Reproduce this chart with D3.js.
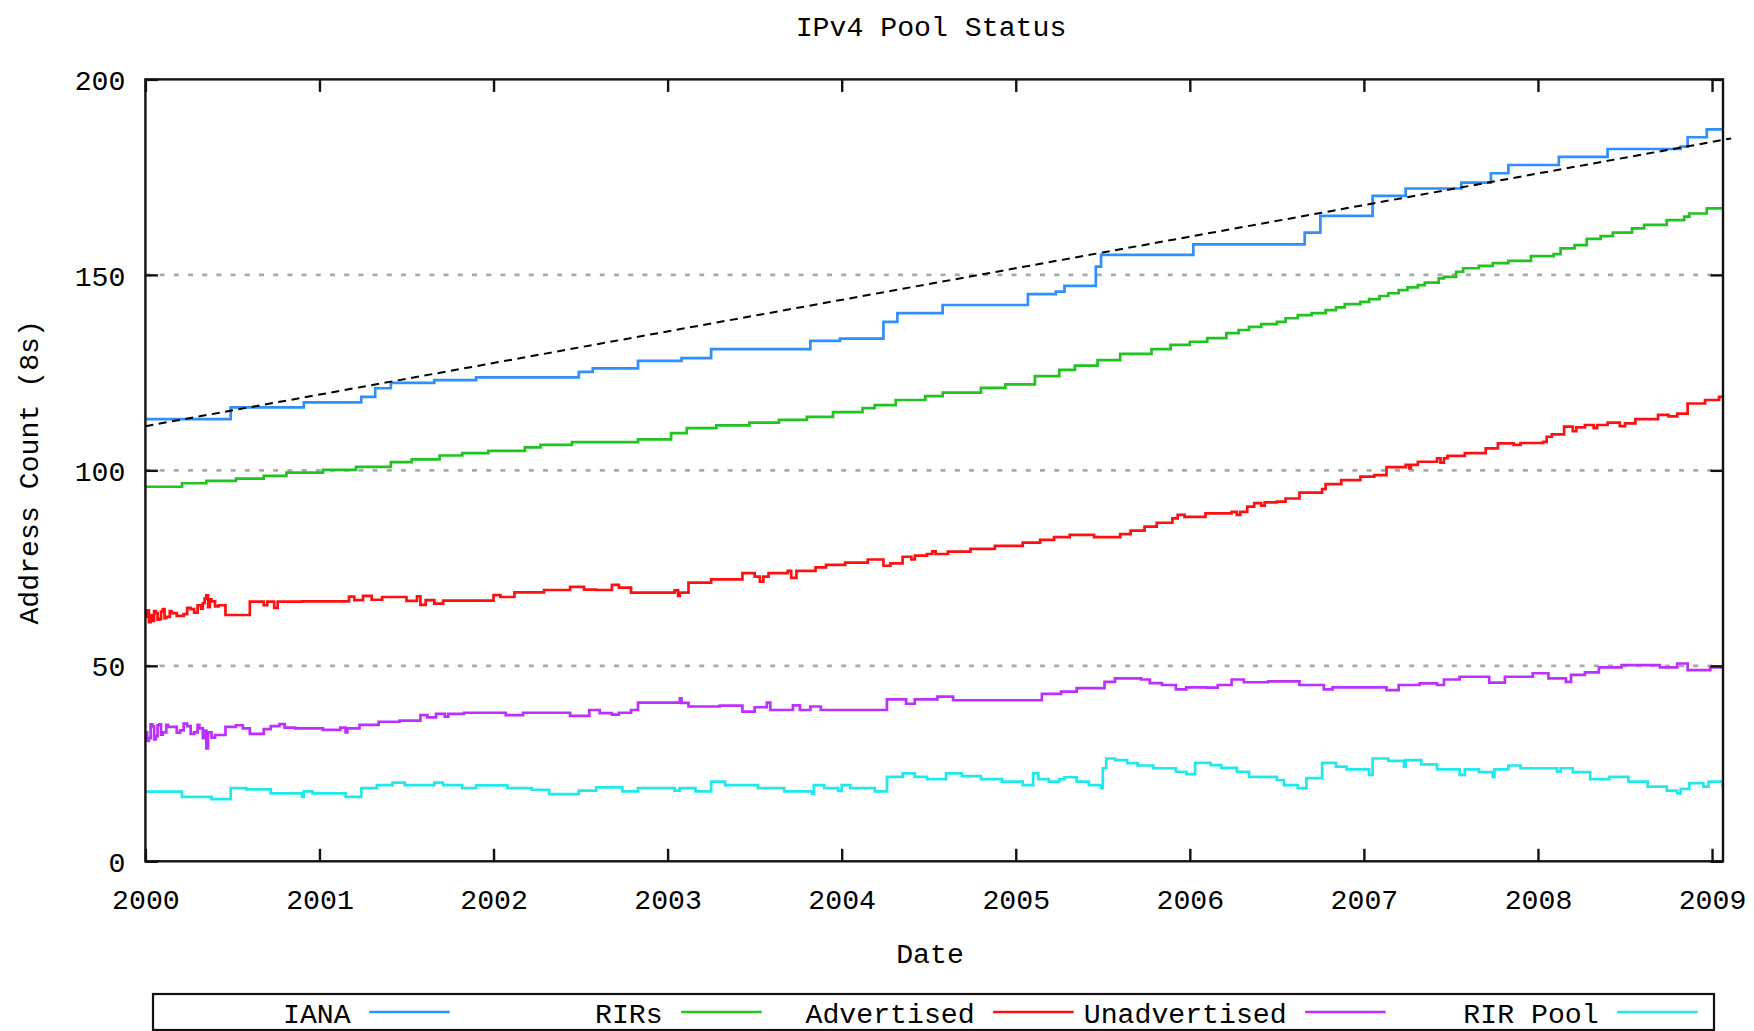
<!DOCTYPE html>
<html><head><meta charset="utf-8">
<script src="https://cdn.jsdelivr.net/npm/d3@7"></script>
<style>
body{margin:0;background:#fff}
svg{display:block}
text{font-family:"Liberation Mono","DejaVu Sans Mono",monospace;fill:#000}
</style>
</head><body>
<svg id="chart" width="1754" height="1031"></svg>
<script>
// ---------------- data ----------------
const chartTitle = "IPv4 Pool Status";
const xLabel = "Date";
const yLabel = "Address Count (8s)";
const yearTicks = [2000, 2001, 2002, 2003, 2004, 2005, 2006, 2007, 2008, 2009];
const valueTicks = [0, 50, 100, 150, 200];
const gridValues = [50, 100, 150];
const seriesNames = ["IANA", "RIRs", "Advertised", "Unadvertised", "RIR Pool"];

const iana = [[2000.00,113.1],[2000.49,116.1],[2000.91,117.4],[2001.24,118.8],[2001.32,121.0],[2001.41,122.4],[2001.66,123.1],[2001.90,123.8],[2002.49,125.2],[2002.57,126.1],[2002.83,128.0],[2003.08,128.7],[2003.25,131.0],[2003.82,133.1],[2003.99,133.7],[2004.24,138.0],[2004.32,140.2],[2004.58,142.3],[2005.07,145.1],[2005.23,145.7],[2005.28,147.2],[2005.46,152.1],[2005.49,155.1],[2006.02,157.8],[2006.66,160.8],[2006.75,165.1],[2007.05,170.2],[2007.24,172.1],[2007.56,173.6],[2007.73,176.0],[2007.83,178.1],[2008.12,180.2],[2008.40,182.2],[2008.82,182.8],[2008.86,185.2],[2008.97,187.2],[2009.07,187.2]];

const rirs = [[2000.00,95.8],[2000.21,96.7],[2000.35,97.3],[2000.52,97.9],[2000.68,98.6],[2000.81,99.4],[2001.02,100.1],[2001.21,100.9],[2001.41,102.1],[2001.53,102.8],[2001.69,103.8],[2001.82,104.4],[2001.97,105.0],[2002.18,105.9],[2002.27,106.5],[2002.45,107.2],[2002.83,107.9],[2003.02,109.5],[2003.11,110.8],[2003.28,111.5],[2003.47,112.2],[2003.64,112.9],[2003.80,113.7],[2003.95,114.9],[2004.12,115.9],[2004.19,116.7],[2004.31,118.0],[2004.48,119.0],[2004.58,119.9],[2004.80,121.1],[2004.94,122.0],[2005.11,124.1],[2005.25,125.7],[2005.34,126.8],[2005.47,128.2],[2005.60,129.8],[2005.78,131.0],[2005.89,132.1],[2006.00,132.9],[2006.10,133.8],[2006.21,135.1],[2006.28,135.9],[2006.34,136.7],[2006.41,137.4],[2006.50,138.0],[2006.55,138.9],[2006.62,139.7],[2006.70,140.2],[2006.78,141.0],[2006.84,141.7],[2006.89,142.5],[2006.98,143.1],[2007.03,143.8],[2007.09,144.6],[2007.14,145.3],[2007.20,146.1],[2007.25,146.8],[2007.31,147.4],[2007.35,148.0],[2007.43,149.1],[2007.46,149.5],[2007.53,150.8],[2007.57,151.7],[2007.66,152.3],[2007.74,153.0],[2007.83,153.6],[2007.96,154.8],[2008.09,155.3],[2008.13,156.8],[2008.21,157.6],[2008.28,159.2],[2008.36,159.9],[2008.43,160.8],[2008.54,161.9],[2008.61,162.8],[2008.74,164.0],[2008.84,164.9],[2008.87,165.7],[2008.97,167.0],[2009.07,167.4]];

const advertised = [[2000.00,62.5],[2000.01,64.2],[2000.02,61.2],[2000.03,63.0],[2000.04,61.5],[2000.05,64.0],[2000.06,63.5],[2000.07,61.8],[2000.08,62.0],[2000.09,63.9],[2000.10,64.5],[2000.11,62.2],[2000.12,62.5],[2000.14,64.0],[2000.15,63.5],[2000.18,62.8],[2000.22,63.2],[2000.24,64.8],[2000.26,64.5],[2000.28,63.6],[2000.30,65.5],[2000.32,64.6],[2000.33,66.0],[2000.34,67.2],[2000.35,68.0],[2000.36,65.0],[2000.37,67.0],[2000.38,66.5],[2000.40,65.2],[2000.42,65.5],[2000.46,63.0],[2000.60,66.4],[2000.68,65.5],[2000.70,66.4],[2000.74,64.8],[2000.76,66.4],[2000.90,66.5],[2001.17,67.7],[2001.20,66.8],[2001.25,67.9],[2001.30,66.9],[2001.36,67.6],[2001.50,66.6],[2001.56,67.8],[2001.58,65.6],[2001.61,66.8],[2001.66,65.9],[2001.71,66.7],[2002.00,68.1],[2002.04,67.6],[2002.12,68.8],[2002.29,69.4],[2002.44,70.2],[2002.52,69.5],[2002.59,69.4],[2002.68,70.7],[2002.72,70.0],[2002.79,68.7],[2003.04,69.3],[2003.06,67.9],[2003.07,68.7],[2003.12,71.3],[2003.25,72.1],[2003.43,73.7],[2003.50,72.8],[2003.53,71.5],[2003.55,72.8],[2003.58,73.7],[2003.69,74.3],[2003.71,72.5],[2003.74,74.3],[2003.85,75.2],[2003.91,75.8],[2004.02,76.4],[2004.15,77.2],[2004.24,75.6],[2004.28,76.2],[2004.35,77.9],[2004.40,77.2],[2004.42,78.2],[2004.49,78.6],[2004.52,79.3],[2004.54,78.6],[2004.61,79.2],[2004.74,79.9],[2004.88,80.7],[2005.04,81.5],[2005.14,82.2],[2005.22,82.9],[2005.31,83.5],[2005.45,82.9],[2005.60,83.7],[2005.66,84.6],[2005.74,85.6],[2005.81,86.6],[2005.90,87.7],[2005.93,88.6],[2005.97,88.1],[2006.09,89.0],[2006.24,89.4],[2006.27,88.6],[2006.29,89.4],[2006.33,90.7],[2006.37,91.6],[2006.41,91.0],[2006.43,91.8],[2006.50,92.0],[2006.55,92.8],[2006.63,94.3],[2006.76,95.2],[2006.78,96.5],[2006.87,97.5],[2006.98,98.4],[2007.06,98.8],[2007.13,100.8],[2007.24,101.4],[2007.26,100.5],[2007.27,101.4],[2007.31,102.2],[2007.42,103.1],[2007.44,102.0],[2007.46,103.1],[2007.48,103.7],[2007.58,104.4],[2007.70,105.6],[2007.77,106.9],[2007.86,106.5],[2007.90,107.0],[2008.03,107.3],[2008.05,108.6],[2008.08,109.2],[2008.15,111.2],[2008.20,110.0],[2008.22,111.0],[2008.27,111.6],[2008.32,110.8],[2008.34,111.6],[2008.40,112.2],[2008.47,111.3],[2008.50,112.0],[2008.56,113.1],[2008.69,114.2],[2008.75,113.8],[2008.80,114.5],[2008.86,117.1],[2008.96,118.0],[2009.04,118.8],[2009.07,118.8]];

const unadvertised = [[2000.00,33.0],[2000.01,30.8],[2000.02,31.5],[2000.03,35.0],[2000.04,34.5],[2000.05,31.2],[2000.06,32.0],[2000.07,34.8],[2000.08,35.0],[2000.09,32.4],[2000.10,33.0],[2000.12,34.9],[2000.13,34.4],[2000.16,34.4],[2000.18,32.9],[2000.20,33.5],[2000.22,35.2],[2000.24,34.6],[2000.26,32.6],[2000.28,33.0],[2000.30,34.9],[2000.31,34.0],[2000.33,31.5],[2000.34,33.4],[2000.35,28.9],[2000.36,33.0],[2000.38,31.6],[2000.40,32.3],[2000.46,34.4],[2000.52,34.8],[2000.56,34.0],[2000.60,32.6],[2000.68,33.8],[2000.72,34.6],[2000.77,35.1],[2000.80,34.2],[2000.86,34.0],[2001.02,33.6],[2001.12,34.2],[2001.15,33.0],[2001.16,34.0],[2001.23,34.9],[2001.34,35.7],[2001.46,36.0],[2001.58,37.4],[2001.62,36.8],[2001.67,37.7],[2001.72,37.0],[2001.74,37.7],[2001.83,38.0],[2002.07,37.4],[2002.17,38.0],[2002.30,38.0],[2002.44,37.2],[2002.55,38.7],[2002.61,37.9],[2002.68,37.5],[2002.72,38.0],[2002.79,38.7],[2002.83,40.6],[2003.07,41.7],[2003.08,40.5],[2003.12,39.6],[2003.30,39.8],[2003.43,38.3],[2003.50,39.4],[2003.57,40.6],[2003.59,38.7],[2003.72,39.9],[2003.76,38.7],[2003.82,39.6],[2003.88,38.7],[2004.19,38.7],[2004.26,41.4],[2004.37,40.3],[2004.42,41.4],[2004.55,42.1],[2004.64,41.2],[2005.15,42.8],[2005.26,43.4],[2005.35,44.3],[2005.51,45.9],[2005.57,46.8],[2005.72,46.5],[2005.77,45.6],[2005.84,45.1],[2005.92,44.0],[2005.98,44.5],[2006.10,44.4],[2006.16,45.1],[2006.24,46.5],[2006.31,45.8],[2006.45,46.0],[2006.63,45.1],[2006.77,44.0],[2006.82,44.5],[2007.13,43.8],[2007.20,45.1],[2007.32,45.5],[2007.42,45.1],[2007.46,46.5],[2007.55,47.2],[2007.72,45.7],[2007.81,47.2],[2007.97,48.1],[2008.06,46.8],[2008.16,45.9],[2008.19,47.7],[2008.27,48.3],[2008.35,49.6],[2008.48,50.2],[2008.60,50.2],[2008.70,49.6],[2008.80,50.6],[2008.86,48.9],[2008.99,49.6],[2009.07,49.4]];

const rirPool = [[2000.00,17.8],[2000.21,16.5],[2000.38,15.9],[2000.49,18.7],[2000.58,18.4],[2000.72,17.4],[2000.90,16.5],[2000.91,17.9],[2000.96,17.4],[2001.15,16.5],[2001.24,18.7],[2001.33,19.5],[2001.42,20.1],[2001.49,19.5],[2001.66,20.1],[2001.71,19.5],[2001.82,18.7],[2001.90,19.4],[2002.08,18.7],[2002.22,18.3],[2002.32,17.2],[2002.49,18.1],[2002.59,18.9],[2002.74,17.9],[2002.83,18.7],[2003.04,18.1],[2003.07,18.7],[2003.16,17.9],[2003.25,20.4],[2003.33,19.5],[2003.52,18.7],[2003.67,17.9],[2003.83,17.3],[2003.84,19.5],[2003.90,18.7],[2003.98,18.0],[2004.00,19.5],[2004.05,18.7],[2004.19,17.9],[2004.26,21.6],[2004.35,22.5],[2004.42,21.6],[2004.49,21.0],[2004.60,22.5],[2004.69,21.8],[2004.80,21.0],[2004.92,20.4],[2005.04,19.5],[2005.10,22.5],[2005.13,21.0],[2005.19,20.4],[2005.25,21.0],[2005.28,21.5],[2005.35,20.4],[2005.42,19.5],[2005.49,18.7],[2005.50,23.8],[2005.52,26.3],[2005.57,25.9],[2005.64,25.1],[2005.70,24.5],[2005.79,23.8],[2005.92,22.9],[2005.98,22.3],[2006.03,25.2],[2006.12,24.6],[2006.18,23.9],[2006.27,22.9],[2006.34,21.6],[2006.50,20.8],[2006.54,19.5],[2006.62,18.7],[2006.67,21.3],[2006.76,25.2],[2006.84,24.2],[2006.90,23.5],[2007.03,22.1],[2007.05,26.3],[2007.14,25.7],[2007.23,24.2],[2007.24,25.9],[2007.33,24.8],[2007.42,23.5],[2007.55,22.1],[2007.58,23.5],[2007.66,22.8],[2007.74,21.6],[2007.75,23.5],[2007.83,24.5],[2007.90,23.8],[2008.11,22.9],[2008.13,23.8],[2008.20,22.8],[2008.30,21.0],[2008.41,21.6],[2008.52,20.4],[2008.63,19.1],[2008.74,18.1],[2008.80,17.4],[2008.82,18.5],[2008.87,20.0],[2008.95,19.1],[2008.98,20.4],[2009.06,19.5]];

const trend = [[2000.00,111.3],[2009.11,184.9]];
const xDomain = [2000, 2009.063];
const yDomain = [0, 200];

// ---------------- styles / layout ----------------
const colors = ["#2f8ffb", "#1fc41f", "#ff1010", "#bd2fff", "#1fe9e9"];
const seriesData = [iana, rirs, advertised, unadvertised, rirPool];
const L = 145.4, R = 1723, T = 79.4, B = 861.3;
const FS = 28.2;

const svg = d3.select("#chart");
const x = d3.scaleLinear().domain(xDomain).range([L, R]);
const y = d3.scaleLinear().domain(yDomain).range([B, T]);

// grid
svg.append("g").selectAll("line").data(gridValues).join("line")
  .attr("x1", L).attr("x2", R).attr("y1", d => y(d)).attr("y2", d => y(d))
  .attr("stroke", "#aaaaaa").attr("stroke-width", 2.6).attr("stroke-dasharray", "5,9.2");

// series
svg.append("defs").append("clipPath").attr("id", "clip")
  .append("rect").attr("x", L).attr("y", T).attr("width", R - L).attr("height", B - T);
const line = d3.line().x(d => x(d[0])).y(d => y(d[1])).curve(d3.curveStepAfter);
const gS = svg.append("g").attr("clip-path", "url(#clip)");
seriesData.forEach((s, i) => {
  gS.append("path").datum(s).attr("d", line)
    .attr("fill", "none").attr("stroke", colors[i]).attr("stroke-width", 2.7)
    .attr("stroke-linejoin", "miter").attr("stroke-linecap", "square");
});

// trend (dashed, not clipped)
svg.append("path").datum(trend).attr("d", d3.line().x(d => x(d[0])).y(d => y(d[1])))
  .attr("fill", "none").attr("stroke", "#000").attr("stroke-width", 2).attr("stroke-dasharray", "8,5.5");

// axes
function styleAxis(g) {
  g.select(".domain").remove();
  g.selectAll(".tick line").attr("stroke", "#111").attr("stroke-width", 2.4);
  g.selectAll("text").style("font-size", FS + "px").attr("fill", "#000");
}
svg.append("g").attr("transform", `translate(0,${B})`)
  .call(d3.axisBottom(x).tickValues(yearTicks).tickFormat(d3.format("d")).tickSizeInner(-12.5).tickSizeOuter(0))
  .call(styleAxis)
  .call(g => g.selectAll("text").attr("y", 48).attr("dy", null));
svg.append("g").attr("transform", `translate(0,${T})`)
  .call(d3.axisTop(x).tickValues(yearTicks).tickFormat("").tickSizeInner(-12.5).tickSizeOuter(0))
  .call(styleAxis);
svg.append("g").attr("transform", `translate(${L},0)`)
  .call(d3.axisLeft(y).tickValues(valueTicks).tickFormat(d3.format("d")).tickSizeInner(-12.5).tickSizeOuter(0).tickPadding(20))
  .call(styleAxis)
  .call(g => g.selectAll("text").attr("dy", "0.36em"));
svg.append("g").attr("transform", `translate(${R},0)`)
  .call(d3.axisRight(y).tickValues(valueTicks).tickFormat("").tickSizeInner(-12.5).tickSizeOuter(0))
  .call(styleAxis);

// border
svg.append("rect").attr("x", L).attr("y", T).attr("width", R - L).attr("height", B - T)
  .attr("fill", "none").attr("stroke", "#111").attr("stroke-width", 2.4);

// titles
svg.append("text").attr("x", 931).attr("y", 36).attr("text-anchor", "middle")
  .style("font-size", FS + "px").text(chartTitle);
svg.append("text").attr("x", 930).attr("y", 963).attr("text-anchor", "middle")
  .style("font-size", FS + "px").text(xLabel);
svg.append("text").attr("transform", `translate(38,${(T + B) / 2 + 2}) rotate(-90)`)
  .attr("text-anchor", "middle").style("font-size", FS + "px").text(yLabel);

// legend
const LX = 153, LY = 994, LW = 1561, LH = 36, colW = 312;
svg.append("rect").attr("x", LX).attr("y", LY).attr("width", LW).attr("height", LH)
  .attr("fill", "#fff").attr("stroke", "#111").attr("stroke-width", 2.2);
const lg = svg.append("g").selectAll("g").data(seriesNames).join("g")
  .attr("transform", (d, i) => `translate(${449.7 + i * colW},0)`);
lg.append("line").attr("x1", -80.5).attr("x2", 0).attr("y1", 1012).attr("y2", 1012)
  .attr("stroke", (d, i) => colors[i]).attr("stroke-width", 2.7);
lg.append("text").attr("x", -99).attr("y", 1023).attr("text-anchor", "end")
  .style("font-size", FS + "px").text(d => d);
</script>
</body></html>
